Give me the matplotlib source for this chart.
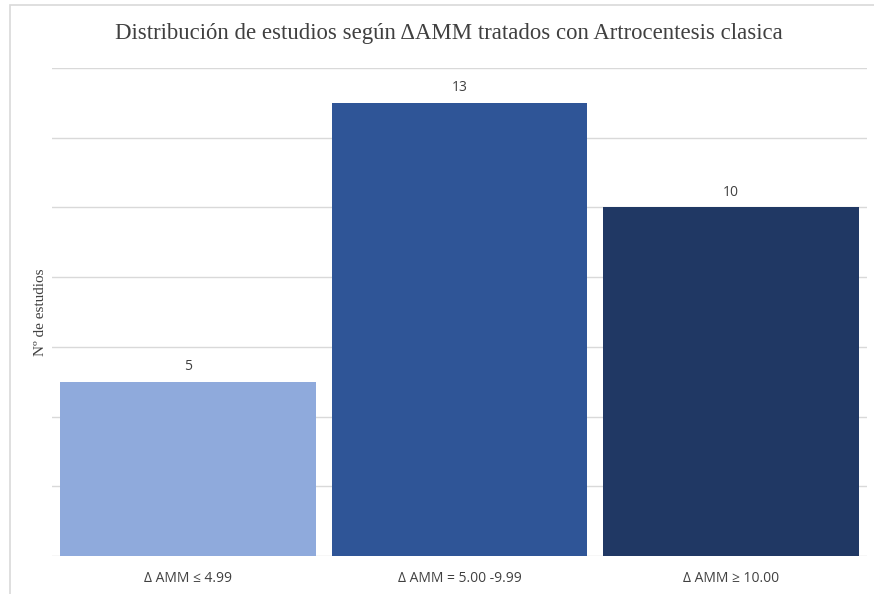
import matplotlib
matplotlib.use("Agg")
import matplotlib.pyplot as plt
from matplotlib.patches import Rectangle

categories = ["Δ AMM ≤ 4.99", "Δ AMM = 5.00 -9.99", "Δ AMM ≥ 10.00"]
values = [5, 13, 10]
colors = ["#8FAADC", "#2F5597", "#203864"]

W, H = 874, 594
fig = plt.figure(figsize=(W / 100, H / 100), dpi=100)
fig.patch.set_facecolor("white")

# outer chart-area border (top and left visible)
fig.add_artist(Rectangle((10 / W, -0.05), 1.1, (H - 5) / H + 0.05, transform=fig.transFigure,
                         fill=False, edgecolor="#D9D9D9", linewidth=1.2))

ax = fig.add_axes([52 / W, (H - 556) / H, (867 - 52) / W, (556 - 68) / H])
x = range(len(categories))
bars = ax.bar(x, values, width=0.94, color=colors, zorder=3)
ax.set_xlim(-0.5, 2.5)
ax.set_ylim(0, 14)
ax.set_yticks(range(0, 15, 2))
ax.yaxis.grid(True, color="#D9D9D9", linewidth=1.0, zorder=0)
ax.tick_params(axis="y", length=0, labelleft=False)
ax.tick_params(axis="x", length=0, pad=11, labelsize=10, labelcolor="#404040")
ax.set_xticks(list(x))
ax.set_xticklabels(categories, fontfamily=["Open Sans", "DejaVu Sans"])
for s in ax.spines.values():
    s.set_visible(False)

for xi, v in zip(x, values):
    ax.text(xi, v + 0.22, str(v), ha="center", va="bottom", fontsize=10,
            color="#404040", fontfamily="Open Sans")

fig.text(449 / W, 1 - 34 / H, "Distribución de estudios según ΔAMM tratados con Artrocentesis clasica",
         ha="center", va="center", fontsize=16.4, color="#404040", fontfamily="Liberation Serif")
fig.text(41 / W, 1 - 312 / H, "Nº de estudios", rotation=90, ha="center", va="center",
         fontsize=11, color="#404040", fontfamily="Liberation Serif")

fig.savefig("out.png", dpi=100)
